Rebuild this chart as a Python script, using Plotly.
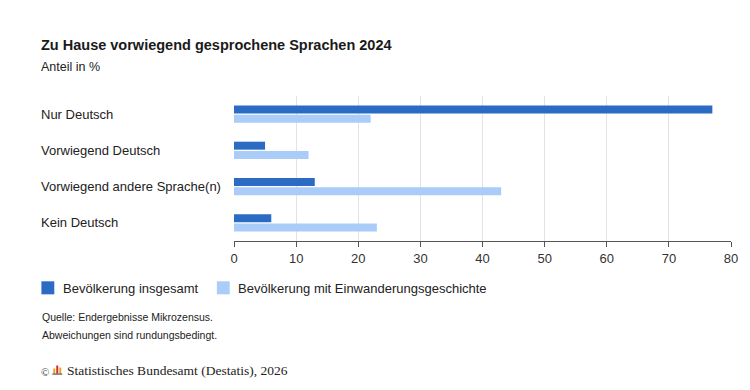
import plotly.graph_objects as go

categories = ["Nur Deutsch", "Vorwiegend Deutsch", "Vorwiegend andere Sprache(n)", "Kein Deutsch"]
series_names = ["Bevölkerung insgesamt", "Bevölkerung mit Einwanderungsgeschichte"]
insgesamt = [77, 5, 13, 6]
einwanderung = [22, 12, 43, 23]
x_ticks = [0, 10, 20, 30, 40, 50, 60, 70, 80]

title = "Zu Hause vorwiegend gesprochene Sprachen 2024"
subtitle = "Anteil in %"
notes = ["Quelle: Endergebnisse Mikrozensus.", "Abweichungen sind rundungsbedingt."]
copyright_text = "Statistisches Bundesamt (Destatis), 2026"

DARK = "#2b6bc3"
LIGHT = "#a9cdf8"
FONT = "Liberation Sans, Arial, sans-serif"
TXT = "#222222"

# page body has an 8px margin; work in window pixel coordinates and shift
OFF = 8
W, H = 750 - OFF, 390 - OFF
L, R, T, B = 234.3 - OFF, 14.3, 96.2 - OFF, 149.2
PW, PH = W - L - R, H - T - B


def px(x):
    return (x - OFF - L) / PW


def py(y):
    return (H - B - (y - OFF)) / PH


fig = go.Figure()
fig.add_trace(go.Bar(y=categories, x=insgesamt, orientation="h", name=series_names[0],
                     marker=dict(color=DARK, line=dict(width=0)), showlegend=False))
fig.add_trace(go.Bar(y=categories, x=einwanderung, orientation="h", name=series_names[1],
                     marker=dict(color=LIGHT, line=dict(width=0)), showlegend=False))

annotations = []
for c in categories:
    annotations.append(dict(text=c, x=px(38), xref="paper", xanchor="left", y=c, yref="y",
                            yanchor="middle", showarrow=False,
                            font=dict(family=FONT, size=13, color=TXT)))

annotations.append(dict(text="<b>" + title + "</b>", x=px(38), xref="paper", xanchor="left",
                        y=py(45), yref="paper", yanchor="middle", showarrow=False,
                        font=dict(family=FONT, size=14.5, color="#1a1a1a")))
annotations.append(dict(text=subtitle, x=px(38), xref="paper", xanchor="left",
                        y=py(67), yref="paper", yanchor="middle", showarrow=False,
                        font=dict(family=FONT, size=12.5, color=TXT)))

# legend
shapes = []
leg = [(40, 59.5, DARK, series_names[0]), (217, 236.5, LIGHT, series_names[1])]
for sx, tx, col, name in leg:
    shapes.append(dict(type="rect", xref="paper", yref="paper", x0=px(sx), x1=px(sx + 13),
                       y0=py(294), y1=py(281), fillcolor=col, line=dict(width=0)))
    annotations.append(dict(text=name, x=px(tx), xref="paper", xanchor="left", y=py(288),
                            yref="paper", yanchor="middle", showarrow=False,
                            font=dict(family=FONT, size=13, color=TXT)))

for i, n in enumerate(notes):
    annotations.append(dict(text=n, x=px(38.5), xref="paper", xanchor="left", y=py(317 + 18 * i),
                            yref="paper", yanchor="middle", showarrow=False,
                            font=dict(family=FONT, size=10.5, color=TXT)))

annotations.append(dict(text="©", x=px(38), xref="paper", xanchor="left", y=py(371),
                        yref="paper", yanchor="middle", showarrow=False,
                        font=dict(family="Liberation Serif, serif", size=11, color="#333")))
annotations.append(dict(text=copyright_text, x=px(64), xref="paper", xanchor="left", y=py(369.5),
                        yref="paper", yanchor="middle", showarrow=False,
                        font=dict(family="Liberation Serif, Times New Roman, serif", size=13.5, color="#222")))
# small logo
for bx, bh, col in [(52, 5, "#e8a317"), (55, 8, "#d8262c"), (58, 6, "#e8a317")]:
    shapes.append(dict(type="rect", xref="paper", yref="paper", x0=px(bx), x1=px(bx + 2),
                       y0=py(373), y1=py(373 - bh), fillcolor=col, line=dict(width=0)))
shapes.append(dict(type="rect", xref="paper", yref="paper", x0=px(51), x1=px(61),
                   y0=py(374), y1=py(373), fillcolor="#333", line=dict(width=0)))

fig.update_layout(
    width=W, height=H,
    margin=dict(l=L, r=R, t=T, b=B, pad=0),
    paper_bgcolor="white", plot_bgcolor="white",
    barmode="group", bargap=0.482, bargroupgap=0.147,
    font=dict(family=FONT, size=13, color=TXT),
    annotations=annotations, shapes=shapes,
    showlegend=False,
)
fig.update_xaxes(range=[0, 80], tickvals=x_ticks, showgrid=True, gridcolor="#e3e3e3", gridwidth=1,
                 showline=True, linecolor="#555", linewidth=1, ticks="outside", ticklen=5,
                 tickcolor="#555", tickfont=dict(family=FONT, size=13, color="#333"), zeroline=False,
                 fixedrange=True)
fig.update_yaxes(autorange="reversed", showticklabels=False, showgrid=False, showline=False,
                 ticks="", fixedrange=True)

fig.write_html("out.html", config={"displayModeBar": False})
